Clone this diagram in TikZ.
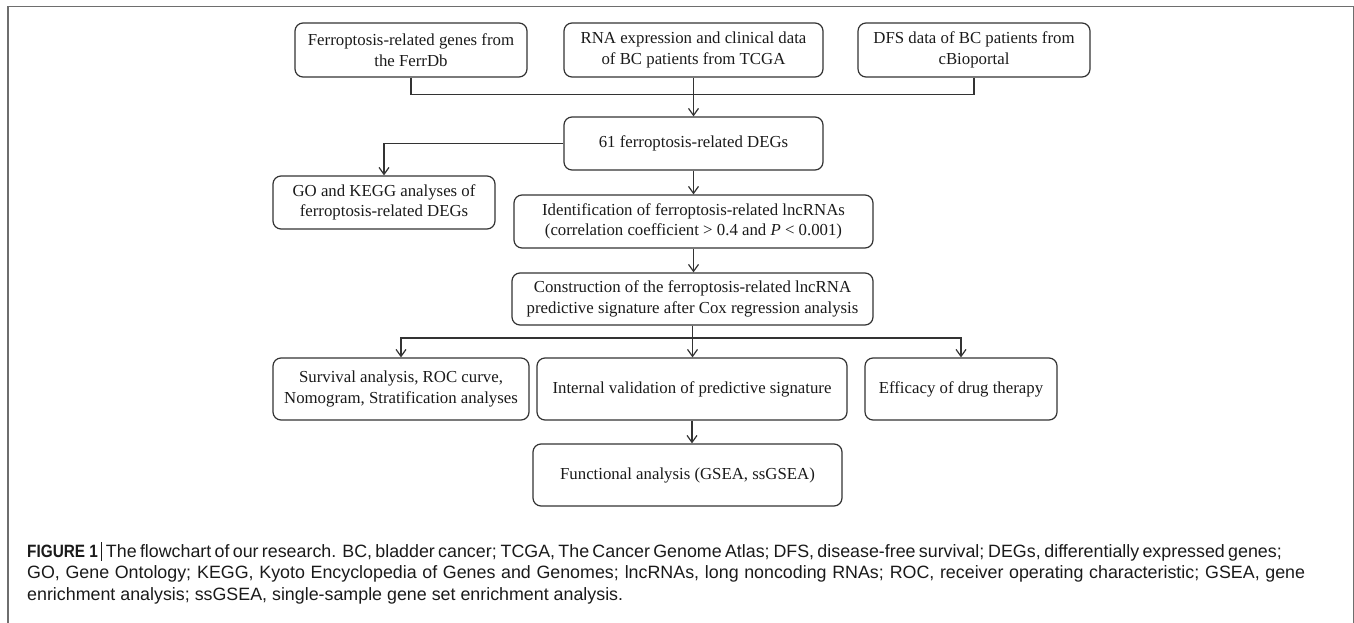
\documentclass[tikz,border=0pt]{standalone}
\usepackage{fontspec}
\usepackage{graphicx}
\setmainfont{Liberation Serif}
\newfontfamily\capfont{Liberation Sans}
\usetikzlibrary{arrows.meta}
\definecolor{boxline}{HTML}{333333}
\definecolor{framegray}{HTML}{6E6E6E}
\definecolor{txt}{HTML}{1A1A1A}
\newsavebox\capmeasure
\AtBeginDocument{%
  \sbox\capmeasure{\capfont\fontsize{15}{18}\selectfont enrichment analysis; ssGSEA, single-sample gene set enrichment analysis.}%
  \pgfmathsetmacro\capsize{15*596/\wd\capmeasure}%
  \global\let\capsize\capsize}
\tikzset{
  flowbox/.style={draw=boxline, line width=1.2pt, rounded corners=8pt, align=center,
    inner sep=0pt, font=\fontsize{16.8}{20.5}\selectfont, text=txt},
  flowarrow/.style={draw=boxline, line width=1.2pt,
    -{Straight Barb[length=7pt,width=10pt,line width=1.2pt]}},
  flowline/.style={draw=boxline, line width=1.2pt},
  capline/.style={anchor=base west, inner sep=0pt,
    font=\capfont\fontsize{\capsize}{21.5}\selectfont, text=txt}
}
\begin{document}
\begin{tikzpicture}[x=1pt,y=-1pt]
\useasboundingbox (0,0) rectangle (1354,623);
\draw[framegray, line width=1.3pt] (8,623) -- (8,6.5) -- (1353.3,6.5) -- (1353.3,623);

% top row
\node[flowbox, minimum width=232pt, minimum height=54pt] (b1) at (411,50)
  {Ferroptosis-related genes from\\the FerrDb};
\node[flowbox, minimum width=259pt, minimum height=54pt] (b2) at (693.5,50)
  {RNA expression and clinical data\\of BC patients from TCGA};
\node[flowbox, minimum width=232pt, minimum height=54pt] (b3) at (974,50)
  {DFS data of BC patients from\\cBioportal};

\node[flowbox, minimum width=259pt, minimum height=53pt] (d61) at (693.5,143.5)
  {61 ferroptosis-related DEGs};
\node[flowbox, minimum width=222pt, minimum height=53pt] (go) at (384,202.5)
  {GO and KEGG analyses of\\ferroptosis-related DEGs};
\node[flowbox, minimum width=359pt, minimum height=53pt] (idf) at (693.5,221.5)
  {Identification of ferroptosis-related lncRNAs\\(correlation coefficient > 0.4 and \textit{P} < 0.001)};
\node[flowbox, minimum width=361pt, minimum height=52pt] (con) at (692.5,299)
  {Construction of the ferroptosis-related lncRNA\\predictive signature after Cox regression analysis};

\node[flowbox, minimum width=256pt, minimum height=62pt] (surv) at (401,389)
  {Survival analysis, ROC curve,\\Nomogram, Stratification analyses};
\node[flowbox, minimum width=310pt, minimum height=62pt] (int) at (692,389)
  {Internal validation of predictive signature};
\node[flowbox, minimum width=192pt, minimum height=62pt] (eff) at (961,389)
  {Efficacy of drug therapy};
\node[flowbox, minimum width=309pt, minimum height=62pt] (fun) at (687.5,475)
  {Functional analysis (GSEA, ssGSEA)};

% connectors
\coordinate (m) at (0,94.5);
\coordinate (sp) at (0,338);
\draw[flowline] (b1.south) -- (b1.south |- m) -- (b3.south |- m) -- (b3.south);
\draw[flowarrow] (b2.south) -- (d61.north);
\draw[flowarrow] (d61.west) -| (go.north);
\draw[flowarrow] (d61.south) -- (idf.north);
\draw[flowarrow] (idf.south) -- (idf.south |- con.north);
\draw[flowline] (con.south) -- (con.south |- sp);
\draw[flowarrow] (con.south |- sp) -| (surv.north);
\draw[flowarrow] (con.south |- sp) -| (eff.north);
\draw[flowarrow] (con.south) -- (con.south |- int.north);
\draw[flowarrow] (int.south) -- (int.south |- fun.north);

% caption
\node[capline] (cap1) at (27,557) {\makebox[1245pt][s]{\textbf{\scalebox{0.86}[1]{FIGURE 1}}\hspace{3pt}\rule[-3.5pt]{1pt}{19pt}\hspace{4pt}The flowchart of our research. BC, bladder cancer; TCGA, The Cancer Genome Atlas; DFS, disease-free survival; DEGs, differentially expressed genes;}};
\node[capline] (cap2) at (27,578.5) {\makebox[1278pt][s]{GO, Gene Ontology; KEGG, Kyoto Encyclopedia of Genes and Genomes; lncRNAs, long noncoding RNAs; ROC, receiver operating characteristic; GSEA, gene}};
\node[capline] (cap3) at (27,600) {enrichment analysis; ssGSEA, single-sample gene set enrichment analysis.};
\end{tikzpicture}
\end{document}
